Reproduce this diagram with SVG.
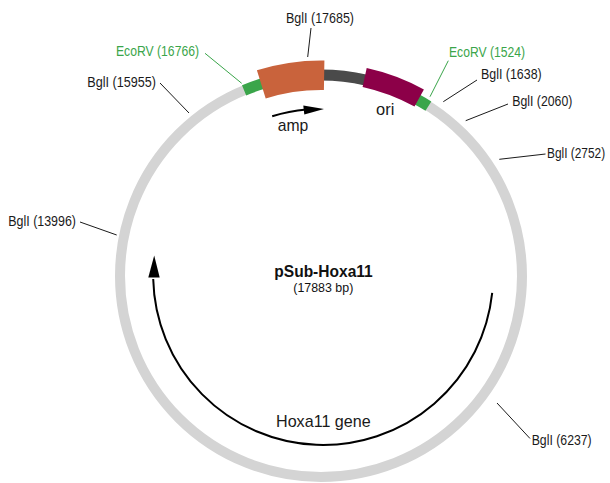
<svg xmlns="http://www.w3.org/2000/svg" width="610" height="483" viewBox="0 0 610 483">
  <style>
    text { font-family: "Liberation Sans", Arial, sans-serif; }
    .site { font-size: 14.5px; fill: #1a1a1a; }
    .eco { font-size: 14.5px; fill: #3aa54a; }
    .feat { font-size: 17px; fill: #1a1a1a; }
    .lead { stroke: #1a1a1a; stroke-width: 1; fill: none; }
    .lead-eco { stroke: #3aa54a; stroke-width: 1; fill: none; }
    .arrow { stroke: #000; stroke-width: 2; fill: none; }
  </style>
  <rect width="610" height="483" fill="#fff"/>

  <!-- backbone ring -->
  <g id="backbone">
    <circle cx="321" cy="276" r="201" fill="none" stroke="#d4d4d4" stroke-width="10"/>
  </g>

  <!-- segments on the ring -->
  <g id="spacer">
    <path d="M321 75 A201 201 0 0 1 366.2 80.2" fill="none" stroke="#4a4a4a" stroke-width="11"/>
  </g>
  <g id="ecorv-16766-site">
    <path d="M244.1 90.3 A201 201 0 0 1 263.9 83.3" fill="none" stroke="#3aa54a" stroke-width="11"/>
  </g>
  <g id="ecorv-1524-site">
    <path d="M416.9 99.4 A201 201 0 0 1 428.4 106.1" fill="none" stroke="#3aa54a" stroke-width="11"/>
  </g>
  <g id="amp">
    <path d="M256.9 70.3 A215.5 215.5 0 0 1 324.4 60.5 L323.9 90 A186 186 0 0 0 265.7 98.4 Z" fill="#c9633c"/>
    <path class="arrow" d="M272.2 116.3 A167 167 0 0 1 306.4 109.6"/>
    <polygon points="324,109 303.3,105.4 304.3,114.4" fill="#000"/>
    <text class="feat" x="277.7" y="130.5" textLength="30.6" lengthAdjust="spacingAndGlyphs">amp</text>
  </g>
  <g id="ori">
    <path d="M366.7 68 A213 213 0 0 1 423.9 89.5 L414.5 106.6 A193.5 193.5 0 0 0 362.6 87 Z" fill="#8c0048"/>
    <text class="feat" x="376" y="115" textLength="18.3" lengthAdjust="spacingAndGlyphs">ori</text>
  </g>
  <g id="hoxa11-gene">
    <path class="arrow" d="M492.2 292.9 A170 170 0 0 1 153.2 279"/>
    <polygon points="154.2,255.5 148.3,277.5 159.7,277.5" fill="#000"/>
    <text class="feat" x="276" y="426.7" textLength="94.7" lengthAdjust="spacingAndGlyphs">Hoxa11 gene</text>
  </g>

  <!-- plasmid title -->
  <g id="title">
    <text x="274.3" y="276.7" font-size="16" font-weight="bold" fill="#111" textLength="98.4" lengthAdjust="spacingAndGlyphs">pSub-Hoxa11</text>
    <text x="293.3" y="292" font-size="13.5" fill="#111" textLength="60" lengthAdjust="spacingAndGlyphs">(17883 bp)</text>
  </g>

  <!-- leader lines from the ring to the site labels -->
  <g id="connectors">
    <line class="lead" x1="307.7" y1="57" x2="311" y2="28"/>
    <line class="lead" x1="189" y1="113" x2="160" y2="83"/>
    <line class="lead" x1="116.7" y1="235" x2="80" y2="222"/>
    <line class="lead" x1="443.3" y1="101.7" x2="477" y2="80"/>
    <line class="lead" x1="465.7" y1="120.7" x2="508" y2="104"/>
    <line class="lead" x1="499.3" y1="159.3" x2="545.5" y2="154"/>
    <line class="lead" x1="497" y1="403" x2="530" y2="438.5"/>
    <line class="lead-eco" x1="241.7" y1="83.3" x2="205" y2="53.3"/>
    <line class="lead-eco" x1="430" y1="96.7" x2="448.3" y2="60.7"/>
  </g>

  <!-- site labels -->
  <g id="bgli-17685"><text class="site" x="286" y="23" textLength="68" lengthAdjust="spacingAndGlyphs">BglI (17685)</text></g>
  <g id="ecorv-16766"><text class="eco" x="116" y="56" textLength="83" lengthAdjust="spacingAndGlyphs">EcoRV (16766)</text></g>
  <g id="bgli-15955"><text class="site" x="87.3" y="87.3" textLength="68.7" lengthAdjust="spacingAndGlyphs">BglI (15955)</text></g>
  <g id="ecorv-1524"><text class="eco" x="449" y="56.7" textLength="76" lengthAdjust="spacingAndGlyphs">EcoRV (1524)</text></g>
  <g id="bgli-1638"><text class="site" x="481" y="79" textLength="60.7" lengthAdjust="spacingAndGlyphs">BglI (1638)</text></g>
  <g id="bgli-2060"><text class="site" x="512.3" y="105.7" textLength="60" lengthAdjust="spacingAndGlyphs">BglI (2060)</text></g>
  <g id="bgli-2752"><text class="site" transform="translate(547 158.3) scale(0.82 1)">BglI (2752)</text></g>
  <g id="bgli-13996"><text class="site" x="8.3" y="226" textLength="67.7" lengthAdjust="spacingAndGlyphs">BglI (13996)</text></g>
  <g id="bgli-6237"><text class="site" x="531.7" y="445" textLength="60" lengthAdjust="spacingAndGlyphs">BglI (6237)</text></g>
</svg>
